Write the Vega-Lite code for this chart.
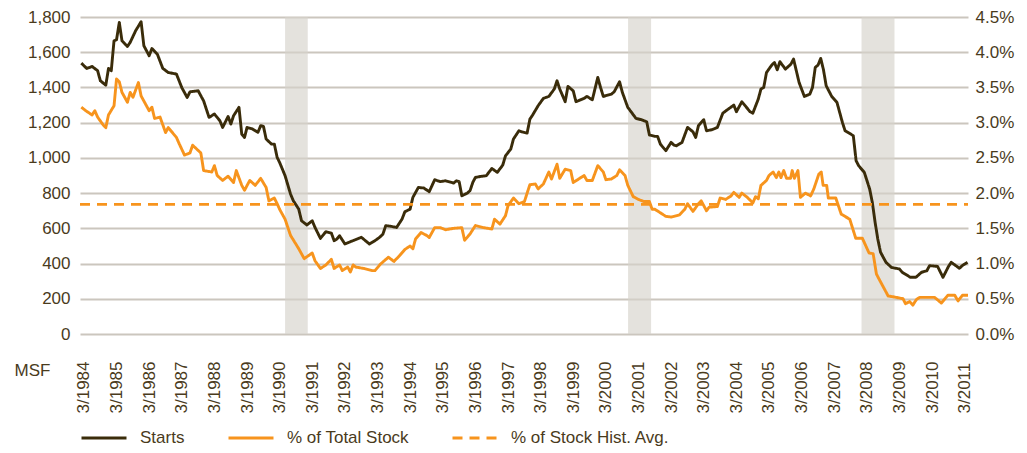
{
  "$schema": "https://vega.github.io/schema/vega-lite/v6.json",
  "width": 888,
  "height": 317,
  "autosize": {"type": "none"},
  "padding": {"left": 80, "top": 17, "right": 59, "bottom": 119},
  "background": "#ffffff",
  "config": {
    "view": {"stroke": null},
    "font": "Liberation Sans",
    "axis": {"labelFont": "Liberation Sans", "labelFontSize": 17, "labelColor": "#4a3b1c", "titleFont": "Liberation Sans", "titleColor": "#4a3b1c"},
    "legend": {"labelFont": "Liberation Sans"}
  },
  "datasets": {
    "bands": [
      {"date": "1990-05-01", "end": "1991-01-10"},
      {"date": "2000-11-04", "end": "2001-07-20"},
      {"date": "2008-01-01", "end": "2009-01-04"}
    ],
    "starts": [
      {"date": "1984-02-01", "series": "Starts", "value": 1538},
      {"date": "1984-04-01", "series": "Starts", "value": 1508},
      {"date": "1984-06-01", "series": "Starts", "value": 1519},
      {"date": "1984-08-01", "series": "Starts", "value": 1495},
      {"date": "1984-09-01", "series": "Starts", "value": 1438},
      {"date": "1984-11-01", "series": "Starts", "value": 1413},
      {"date": "1984-12-01", "series": "Starts", "value": 1508},
      {"date": "1985-01-01", "series": "Starts", "value": 1495},
      {"date": "1985-02-01", "series": "Starts", "value": 1665},
      {"date": "1985-03-01", "series": "Starts", "value": 1671},
      {"date": "1985-04-01", "series": "Starts", "value": 1769},
      {"date": "1985-05-01", "series": "Starts", "value": 1665},
      {"date": "1985-07-01", "series": "Starts", "value": 1633},
      {"date": "1985-08-01", "series": "Starts", "value": 1656},
      {"date": "1985-10-01", "series": "Starts", "value": 1722},
      {"date": "1985-12-01", "series": "Starts", "value": 1773},
      {"date": "1986-01-01", "series": "Starts", "value": 1637},
      {"date": "1986-03-01", "series": "Starts", "value": 1580},
      {"date": "1986-04-01", "series": "Starts", "value": 1621},
      {"date": "1986-06-01", "series": "Starts", "value": 1589},
      {"date": "1986-08-01", "series": "Starts", "value": 1508},
      {"date": "1986-10-01", "series": "Starts", "value": 1485},
      {"date": "1987-01-01", "series": "Starts", "value": 1476},
      {"date": "1987-03-01", "series": "Starts", "value": 1400},
      {"date": "1987-05-01", "series": "Starts", "value": 1343},
      {"date": "1987-06-01", "series": "Starts", "value": 1375},
      {"date": "1987-09-01", "series": "Starts", "value": 1381},
      {"date": "1987-11-01", "series": "Starts", "value": 1324},
      {"date": "1988-01-01", "series": "Starts", "value": 1230},
      {"date": "1988-03-01", "series": "Starts", "value": 1249},
      {"date": "1988-05-01", "series": "Starts", "value": 1211},
      {"date": "1988-06-01", "series": "Starts", "value": 1173},
      {"date": "1988-08-01", "series": "Starts", "value": 1235},
      {"date": "1988-09-01", "series": "Starts", "value": 1192},
      {"date": "1988-10-01", "series": "Starts", "value": 1239},
      {"date": "1988-12-01", "series": "Starts", "value": 1287},
      {"date": "1989-01-01", "series": "Starts", "value": 1135},
      {"date": "1989-02-01", "series": "Starts", "value": 1116},
      {"date": "1989-03-01", "series": "Starts", "value": 1173},
      {"date": "1989-05-01", "series": "Starts", "value": 1164},
      {"date": "1989-07-01", "series": "Starts", "value": 1145},
      {"date": "1989-08-01", "series": "Starts", "value": 1183},
      {"date": "1989-09-01", "series": "Starts", "value": 1179},
      {"date": "1989-10-01", "series": "Starts", "value": 1107},
      {"date": "1989-12-01", "series": "Starts", "value": 1078},
      {"date": "1990-01-01", "series": "Starts", "value": 1078},
      {"date": "1990-02-01", "series": "Starts", "value": 1003},
      {"date": "1990-03-01", "series": "Starts", "value": 974},
      {"date": "1990-05-01", "series": "Starts", "value": 899},
      {"date": "1990-07-01", "series": "Starts", "value": 795},
      {"date": "1990-08-01", "series": "Starts", "value": 757},
      {"date": "1990-10-01", "series": "Starts", "value": 709},
      {"date": "1990-11-01", "series": "Starts", "value": 643},
      {"date": "1991-01-01", "series": "Starts", "value": 619},
      {"date": "1991-03-01", "series": "Starts", "value": 643},
      {"date": "1991-04-01", "series": "Starts", "value": 605},
      {"date": "1991-06-01", "series": "Starts", "value": 543},
      {"date": "1991-07-01", "series": "Starts", "value": 562},
      {"date": "1991-08-01", "series": "Starts", "value": 581},
      {"date": "1991-10-01", "series": "Starts", "value": 573},
      {"date": "1991-11-01", "series": "Starts", "value": 530},
      {"date": "1991-12-01", "series": "Starts", "value": 539},
      {"date": "1992-01-01", "series": "Starts", "value": 558},
      {"date": "1992-03-01", "series": "Starts", "value": 511},
      {"date": "1992-05-01", "series": "Starts", "value": 524},
      {"date": "1992-09-01", "series": "Starts", "value": 549},
      {"date": "1992-12-01", "series": "Starts", "value": 511},
      {"date": "1993-02-01", "series": "Starts", "value": 530},
      {"date": "1993-04-01", "series": "Starts", "value": 552},
      {"date": "1993-05-01", "series": "Starts", "value": 568},
      {"date": "1993-06-01", "series": "Starts", "value": 615},
      {"date": "1993-08-01", "series": "Starts", "value": 611},
      {"date": "1993-10-01", "series": "Starts", "value": 605},
      {"date": "1993-12-01", "series": "Starts", "value": 653},
      {"date": "1994-01-01", "series": "Starts", "value": 694},
      {"date": "1994-03-01", "series": "Starts", "value": 709},
      {"date": "1994-04-01", "series": "Starts", "value": 776},
      {"date": "1994-06-01", "series": "Starts", "value": 832},
      {"date": "1994-08-01", "series": "Starts", "value": 829},
      {"date": "1994-10-01", "series": "Starts", "value": 808},
      {"date": "1994-12-01", "series": "Starts", "value": 876},
      {"date": "1995-02-01", "series": "Starts", "value": 865},
      {"date": "1995-04-01", "series": "Starts", "value": 870},
      {"date": "1995-07-01", "series": "Starts", "value": 857},
      {"date": "1995-08-01", "series": "Starts", "value": 870},
      {"date": "1995-09-01", "series": "Starts", "value": 865},
      {"date": "1995-10-01", "series": "Starts", "value": 785},
      {"date": "1995-12-01", "series": "Starts", "value": 800},
      {"date": "1996-01-01", "series": "Starts", "value": 814},
      {"date": "1996-02-01", "series": "Starts", "value": 861},
      {"date": "1996-03-01", "series": "Starts", "value": 889},
      {"date": "1996-05-01", "series": "Starts", "value": 895},
      {"date": "1996-07-01", "series": "Starts", "value": 899},
      {"date": "1996-09-01", "series": "Starts", "value": 940},
      {"date": "1996-11-01", "series": "Starts", "value": 918},
      {"date": "1997-01-01", "series": "Starts", "value": 959},
      {"date": "1997-02-01", "series": "Starts", "value": 1012},
      {"date": "1997-04-01", "series": "Starts", "value": 1050},
      {"date": "1997-05-01", "series": "Starts", "value": 1107},
      {"date": "1997-07-01", "series": "Starts", "value": 1154},
      {"date": "1997-08-01", "series": "Starts", "value": 1148},
      {"date": "1997-10-01", "series": "Starts", "value": 1141},
      {"date": "1997-11-01", "series": "Starts", "value": 1220},
      {"date": "1997-12-01", "series": "Starts", "value": 1243},
      {"date": "1998-02-01", "series": "Starts", "value": 1296},
      {"date": "1998-04-01", "series": "Starts", "value": 1338},
      {"date": "1998-06-01", "series": "Starts", "value": 1349},
      {"date": "1998-08-01", "series": "Starts", "value": 1391},
      {"date": "1998-09-01", "series": "Starts", "value": 1438},
      {"date": "1998-10-01", "series": "Starts", "value": 1391},
      {"date": "1998-12-01", "series": "Starts", "value": 1319},
      {"date": "1999-01-01", "series": "Starts", "value": 1406},
      {"date": "1999-03-01", "series": "Starts", "value": 1381},
      {"date": "1999-04-01", "series": "Starts", "value": 1319},
      {"date": "1999-07-01", "series": "Starts", "value": 1338},
      {"date": "1999-08-01", "series": "Starts", "value": 1349},
      {"date": "1999-10-01", "series": "Starts", "value": 1330},
      {"date": "1999-12-01", "series": "Starts", "value": 1457},
      {"date": "2000-01-01", "series": "Starts", "value": 1400},
      {"date": "2000-02-01", "series": "Starts", "value": 1349},
      {"date": "2000-05-01", "series": "Starts", "value": 1362},
      {"date": "2000-06-01", "series": "Starts", "value": 1375},
      {"date": "2000-08-01", "series": "Starts", "value": 1432},
      {"date": "2000-09-01", "series": "Starts", "value": 1372},
      {"date": "2000-11-01", "series": "Starts", "value": 1287},
      {"date": "2001-02-01", "series": "Starts", "value": 1224},
      {"date": "2001-04-01", "series": "Starts", "value": 1217},
      {"date": "2001-06-01", "series": "Starts", "value": 1205},
      {"date": "2001-07-01", "series": "Starts", "value": 1130},
      {"date": "2001-09-01", "series": "Starts", "value": 1122},
      {"date": "2001-10-01", "series": "Starts", "value": 1122},
      {"date": "2001-11-01", "series": "Starts", "value": 1078},
      {"date": "2002-01-01", "series": "Starts", "value": 1041},
      {"date": "2002-03-01", "series": "Starts", "value": 1088},
      {"date": "2002-04-01", "series": "Starts", "value": 1073},
      {"date": "2002-05-01", "series": "Starts", "value": 1069},
      {"date": "2002-07-01", "series": "Starts", "value": 1088},
      {"date": "2002-09-01", "series": "Starts", "value": 1173},
      {"date": "2002-11-01", "series": "Starts", "value": 1148},
      {"date": "2002-12-01", "series": "Starts", "value": 1116},
      {"date": "2003-01-01", "series": "Starts", "value": 1183},
      {"date": "2003-03-01", "series": "Starts", "value": 1217},
      {"date": "2003-04-01", "series": "Starts", "value": 1154},
      {"date": "2003-06-01", "series": "Starts", "value": 1160},
      {"date": "2003-08-01", "series": "Starts", "value": 1173},
      {"date": "2003-10-01", "series": "Starts", "value": 1254},
      {"date": "2003-12-01", "series": "Starts", "value": 1277},
      {"date": "2004-02-01", "series": "Starts", "value": 1300},
      {"date": "2004-03-01", "series": "Starts", "value": 1262},
      {"date": "2004-05-01", "series": "Starts", "value": 1319},
      {"date": "2004-06-01", "series": "Starts", "value": 1300},
      {"date": "2004-08-01", "series": "Starts", "value": 1262},
      {"date": "2004-09-01", "series": "Starts", "value": 1254},
      {"date": "2004-11-01", "series": "Starts", "value": 1334},
      {"date": "2004-12-01", "series": "Starts", "value": 1391},
      {"date": "2005-01-01", "series": "Starts", "value": 1400},
      {"date": "2005-02-01", "series": "Starts", "value": 1485},
      {"date": "2005-04-01", "series": "Starts", "value": 1527},
      {"date": "2005-05-01", "series": "Starts", "value": 1542},
      {"date": "2005-06-01", "series": "Starts", "value": 1500},
      {"date": "2005-07-01", "series": "Starts", "value": 1546},
      {"date": "2005-09-01", "series": "Starts", "value": 1504},
      {"date": "2005-11-01", "series": "Starts", "value": 1532},
      {"date": "2005-12-01", "series": "Starts", "value": 1561},
      {"date": "2006-02-01", "series": "Starts", "value": 1428},
      {"date": "2006-04-01", "series": "Starts", "value": 1349},
      {"date": "2006-06-01", "series": "Starts", "value": 1362},
      {"date": "2006-07-01", "series": "Starts", "value": 1400},
      {"date": "2006-08-01", "series": "Starts", "value": 1514},
      {"date": "2006-09-01", "series": "Starts", "value": 1527},
      {"date": "2006-10-01", "series": "Starts", "value": 1565},
      {"date": "2006-11-01", "series": "Starts", "value": 1500},
      {"date": "2006-12-01", "series": "Starts", "value": 1410},
      {"date": "2007-02-01", "series": "Starts", "value": 1349},
      {"date": "2007-04-01", "series": "Starts", "value": 1315},
      {"date": "2007-06-01", "series": "Starts", "value": 1201},
      {"date": "2007-07-01", "series": "Starts", "value": 1154},
      {"date": "2007-10-01", "series": "Starts", "value": 1126},
      {"date": "2007-11-01", "series": "Starts", "value": 984},
      {"date": "2007-12-01", "series": "Starts", "value": 955},
      {"date": "2008-02-01", "series": "Starts", "value": 918},
      {"date": "2008-04-01", "series": "Starts", "value": 823},
      {"date": "2008-05-01", "series": "Starts", "value": 747},
      {"date": "2008-06-01", "series": "Starts", "value": 634},
      {"date": "2008-07-01", "series": "Starts", "value": 539},
      {"date": "2008-08-01", "series": "Starts", "value": 464},
      {"date": "2008-10-01", "series": "Starts", "value": 407},
      {"date": "2008-12-01", "series": "Starts", "value": 378},
      {"date": "2009-03-01", "series": "Starts", "value": 369},
      {"date": "2009-04-01", "series": "Starts", "value": 350},
      {"date": "2009-07-01", "series": "Starts", "value": 322},
      {"date": "2009-09-01", "series": "Starts", "value": 322},
      {"date": "2009-11-01", "series": "Starts", "value": 350},
      {"date": "2010-01-01", "series": "Starts", "value": 359},
      {"date": "2010-02-01", "series": "Starts", "value": 388},
      {"date": "2010-05-01", "series": "Starts", "value": 384},
      {"date": "2010-07-01", "series": "Starts", "value": 322},
      {"date": "2010-09-01", "series": "Starts", "value": 384},
      {"date": "2010-10-01", "series": "Starts", "value": 407},
      {"date": "2011-01-01", "series": "Starts", "value": 373},
      {"date": "2011-02-01", "series": "Starts", "value": 388},
      {"date": "2011-04-01", "series": "Starts", "value": 407}
    ],
    "stock": [
      {"date": "1984-02-01", "series": "% of Total Stock", "value": 3.22},
      {"date": "1984-04-01", "series": "% of Total Stock", "value": 3.16},
      {"date": "1984-06-01", "series": "% of Total Stock", "value": 3.11},
      {"date": "1984-07-01", "series": "% of Total Stock", "value": 3.17},
      {"date": "1984-08-01", "series": "% of Total Stock", "value": 3.08},
      {"date": "1984-10-01", "series": "% of Total Stock", "value": 2.97},
      {"date": "1984-11-01", "series": "% of Total Stock", "value": 2.93},
      {"date": "1984-12-01", "series": "% of Total Stock", "value": 3.11},
      {"date": "1985-02-01", "series": "% of Total Stock", "value": 3.24},
      {"date": "1985-03-01", "series": "% of Total Stock", "value": 3.62},
      {"date": "1985-04-01", "series": "% of Total Stock", "value": 3.58},
      {"date": "1985-05-01", "series": "% of Total Stock", "value": 3.43},
      {"date": "1985-07-01", "series": "% of Total Stock", "value": 3.29},
      {"date": "1985-08-01", "series": "% of Total Stock", "value": 3.43},
      {"date": "1985-09-01", "series": "% of Total Stock", "value": 3.36},
      {"date": "1985-11-01", "series": "% of Total Stock", "value": 3.57},
      {"date": "1985-12-01", "series": "% of Total Stock", "value": 3.38},
      {"date": "1986-03-01", "series": "% of Total Stock", "value": 3.17},
      {"date": "1986-04-01", "series": "% of Total Stock", "value": 3.22},
      {"date": "1986-05-01", "series": "% of Total Stock", "value": 3.06},
      {"date": "1986-07-01", "series": "% of Total Stock", "value": 3.08},
      {"date": "1986-09-01", "series": "% of Total Stock", "value": 2.86},
      {"date": "1986-10-01", "series": "% of Total Stock", "value": 2.93},
      {"date": "1987-01-01", "series": "% of Total Stock", "value": 2.79},
      {"date": "1987-02-01", "series": "% of Total Stock", "value": 2.70},
      {"date": "1987-04-01", "series": "% of Total Stock", "value": 2.54},
      {"date": "1987-06-01", "series": "% of Total Stock", "value": 2.57},
      {"date": "1987-07-01", "series": "% of Total Stock", "value": 2.68},
      {"date": "1987-10-01", "series": "% of Total Stock", "value": 2.57},
      {"date": "1987-11-01", "series": "% of Total Stock", "value": 2.32},
      {"date": "1988-02-01", "series": "% of Total Stock", "value": 2.30},
      {"date": "1988-03-01", "series": "% of Total Stock", "value": 2.39},
      {"date": "1988-04-01", "series": "% of Total Stock", "value": 2.25},
      {"date": "1988-06-01", "series": "% of Total Stock", "value": 2.18},
      {"date": "1988-08-01", "series": "% of Total Stock", "value": 2.24},
      {"date": "1988-10-01", "series": "% of Total Stock", "value": 2.15},
      {"date": "1988-11-01", "series": "% of Total Stock", "value": 2.32},
      {"date": "1989-01-01", "series": "% of Total Stock", "value": 2.11},
      {"date": "1989-02-01", "series": "% of Total Stock", "value": 2.04},
      {"date": "1989-04-01", "series": "% of Total Stock", "value": 2.18},
      {"date": "1989-06-01", "series": "% of Total Stock", "value": 2.11},
      {"date": "1989-08-01", "series": "% of Total Stock", "value": 2.21},
      {"date": "1989-10-01", "series": "% of Total Stock", "value": 2.08},
      {"date": "1989-11-01", "series": "% of Total Stock", "value": 1.89},
      {"date": "1990-01-01", "series": "% of Total Stock", "value": 1.93},
      {"date": "1990-02-01", "series": "% of Total Stock", "value": 1.85},
      {"date": "1990-03-01", "series": "% of Total Stock", "value": 1.77},
      {"date": "1990-05-01", "series": "% of Total Stock", "value": 1.63},
      {"date": "1990-07-01", "series": "% of Total Stock", "value": 1.40},
      {"date": "1990-10-01", "series": "% of Total Stock", "value": 1.21},
      {"date": "1990-12-01", "series": "% of Total Stock", "value": 1.07},
      {"date": "1991-03-01", "series": "% of Total Stock", "value": 1.15},
      {"date": "1991-04-01", "series": "% of Total Stock", "value": 1.04},
      {"date": "1991-06-01", "series": "% of Total Stock", "value": 0.93},
      {"date": "1991-08-01", "series": "% of Total Stock", "value": 0.98},
      {"date": "1991-10-01", "series": "% of Total Stock", "value": 1.06},
      {"date": "1991-11-01", "series": "% of Total Stock", "value": 0.93},
      {"date": "1992-01-01", "series": "% of Total Stock", "value": 0.98},
      {"date": "1992-02-01", "series": "% of Total Stock", "value": 0.90},
      {"date": "1992-04-01", "series": "% of Total Stock", "value": 0.95},
      {"date": "1992-05-01", "series": "% of Total Stock", "value": 0.88},
      {"date": "1992-06-01", "series": "% of Total Stock", "value": 0.98},
      {"date": "1992-07-01", "series": "% of Total Stock", "value": 0.95},
      {"date": "1992-10-01", "series": "% of Total Stock", "value": 0.93},
      {"date": "1993-01-01", "series": "% of Total Stock", "value": 0.90},
      {"date": "1993-02-01", "series": "% of Total Stock", "value": 0.90},
      {"date": "1993-04-01", "series": "% of Total Stock", "value": 0.99},
      {"date": "1993-07-01", "series": "% of Total Stock", "value": 1.09},
      {"date": "1993-09-01", "series": "% of Total Stock", "value": 1.03},
      {"date": "1993-11-01", "series": "% of Total Stock", "value": 1.11},
      {"date": "1994-01-01", "series": "% of Total Stock", "value": 1.20},
      {"date": "1994-03-01", "series": "% of Total Stock", "value": 1.25},
      {"date": "1994-04-01", "series": "% of Total Stock", "value": 1.21},
      {"date": "1994-05-01", "series": "% of Total Stock", "value": 1.35},
      {"date": "1994-07-01", "series": "% of Total Stock", "value": 1.44},
      {"date": "1994-09-01", "series": "% of Total Stock", "value": 1.40},
      {"date": "1994-10-01", "series": "% of Total Stock", "value": 1.37},
      {"date": "1994-12-01", "series": "% of Total Stock", "value": 1.51},
      {"date": "1995-02-01", "series": "% of Total Stock", "value": 1.51},
      {"date": "1995-04-01", "series": "% of Total Stock", "value": 1.48},
      {"date": "1995-07-01", "series": "% of Total Stock", "value": 1.50},
      {"date": "1995-10-01", "series": "% of Total Stock", "value": 1.51},
      {"date": "1995-11-01", "series": "% of Total Stock", "value": 1.33},
      {"date": "1996-01-01", "series": "% of Total Stock", "value": 1.42},
      {"date": "1996-03-01", "series": "% of Total Stock", "value": 1.54},
      {"date": "1996-06-01", "series": "% of Total Stock", "value": 1.51},
      {"date": "1996-09-01", "series": "% of Total Stock", "value": 1.49},
      {"date": "1996-10-01", "series": "% of Total Stock", "value": 1.63},
      {"date": "1996-12-01", "series": "% of Total Stock", "value": 1.56},
      {"date": "1997-02-01", "series": "% of Total Stock", "value": 1.68},
      {"date": "1997-03-01", "series": "% of Total Stock", "value": 1.82},
      {"date": "1997-05-01", "series": "% of Total Stock", "value": 1.93},
      {"date": "1997-07-01", "series": "% of Total Stock", "value": 1.85},
      {"date": "1997-09-01", "series": "% of Total Stock", "value": 1.88},
      {"date": "1997-10-01", "series": "% of Total Stock", "value": 2.00},
      {"date": "1997-11-01", "series": "% of Total Stock", "value": 2.12},
      {"date": "1998-01-01", "series": "% of Total Stock", "value": 2.13},
      {"date": "1998-02-01", "series": "% of Total Stock", "value": 2.06},
      {"date": "1998-04-01", "series": "% of Total Stock", "value": 2.13},
      {"date": "1998-06-01", "series": "% of Total Stock", "value": 2.30},
      {"date": "1998-07-01", "series": "% of Total Stock", "value": 2.20},
      {"date": "1998-09-01", "series": "% of Total Stock", "value": 2.41},
      {"date": "1998-10-01", "series": "% of Total Stock", "value": 2.21},
      {"date": "1998-12-01", "series": "% of Total Stock", "value": 2.34},
      {"date": "1999-02-01", "series": "% of Total Stock", "value": 2.32},
      {"date": "1999-03-01", "series": "% of Total Stock", "value": 2.15},
      {"date": "1999-05-01", "series": "% of Total Stock", "value": 2.20},
      {"date": "1999-07-01", "series": "% of Total Stock", "value": 2.25},
      {"date": "1999-08-01", "series": "% of Total Stock", "value": 2.18},
      {"date": "1999-10-01", "series": "% of Total Stock", "value": 2.18},
      {"date": "1999-12-01", "series": "% of Total Stock", "value": 2.39},
      {"date": "2000-02-01", "series": "% of Total Stock", "value": 2.30},
      {"date": "2000-03-01", "series": "% of Total Stock", "value": 2.19},
      {"date": "2000-05-01", "series": "% of Total Stock", "value": 2.20},
      {"date": "2000-07-01", "series": "% of Total Stock", "value": 2.25},
      {"date": "2000-08-01", "series": "% of Total Stock", "value": 2.33},
      {"date": "2000-10-01", "series": "% of Total Stock", "value": 2.25},
      {"date": "2000-11-01", "series": "% of Total Stock", "value": 2.11},
      {"date": "2001-01-01", "series": "% of Total Stock", "value": 1.95},
      {"date": "2001-03-01", "series": "% of Total Stock", "value": 1.91},
      {"date": "2001-05-01", "series": "% of Total Stock", "value": 1.88},
      {"date": "2001-07-01", "series": "% of Total Stock", "value": 1.88},
      {"date": "2001-08-01", "series": "% of Total Stock", "value": 1.77},
      {"date": "2001-09-01", "series": "% of Total Stock", "value": 1.77},
      {"date": "2001-11-01", "series": "% of Total Stock", "value": 1.72},
      {"date": "2002-01-01", "series": "% of Total Stock", "value": 1.67},
      {"date": "2002-03-01", "series": "% of Total Stock", "value": 1.66},
      {"date": "2002-06-01", "series": "% of Total Stock", "value": 1.69},
      {"date": "2002-08-01", "series": "% of Total Stock", "value": 1.77},
      {"date": "2002-09-01", "series": "% of Total Stock", "value": 1.85},
      {"date": "2002-11-01", "series": "% of Total Stock", "value": 1.74},
      {"date": "2003-01-01", "series": "% of Total Stock", "value": 1.85},
      {"date": "2003-02-01", "series": "% of Total Stock", "value": 1.89},
      {"date": "2003-04-01", "series": "% of Total Stock", "value": 1.75},
      {"date": "2003-05-01", "series": "% of Total Stock", "value": 1.80},
      {"date": "2003-08-01", "series": "% of Total Stock", "value": 1.81},
      {"date": "2003-09-01", "series": "% of Total Stock", "value": 1.93},
      {"date": "2003-11-01", "series": "% of Total Stock", "value": 1.91},
      {"date": "2004-01-01", "series": "% of Total Stock", "value": 1.96},
      {"date": "2004-02-01", "series": "% of Total Stock", "value": 2.01},
      {"date": "2004-04-01", "series": "% of Total Stock", "value": 1.94},
      {"date": "2004-05-01", "series": "% of Total Stock", "value": 2.00},
      {"date": "2004-07-01", "series": "% of Total Stock", "value": 1.94},
      {"date": "2004-09-01", "series": "% of Total Stock", "value": 1.86},
      {"date": "2004-10-01", "series": "% of Total Stock", "value": 1.95},
      {"date": "2004-11-01", "series": "% of Total Stock", "value": 1.92},
      {"date": "2004-12-01", "series": "% of Total Stock", "value": 2.11},
      {"date": "2005-02-01", "series": "% of Total Stock", "value": 2.18},
      {"date": "2005-03-01", "series": "% of Total Stock", "value": 2.25},
      {"date": "2005-04-16", "series": "% of Total Stock", "value": 2.30},
      {"date": "2005-05-22", "series": "% of Total Stock", "value": 2.22},
      {"date": "2005-06-19", "series": "% of Total Stock", "value": 2.30},
      {"date": "2005-07-13", "series": "% of Total Stock", "value": 2.22},
      {"date": "2005-08-13", "series": "% of Total Stock", "value": 2.32},
      {"date": "2005-09-13", "series": "% of Total Stock", "value": 2.21},
      {"date": "2005-10-28", "series": "% of Total Stock", "value": 2.21},
      {"date": "2005-11-16", "series": "% of Total Stock", "value": 2.32},
      {"date": "2005-12-10", "series": "% of Total Stock", "value": 2.21},
      {"date": "2006-01-19", "series": "% of Total Stock", "value": 2.32},
      {"date": "2006-02-16", "series": "% of Total Stock", "value": 1.94},
      {"date": "2006-04-13", "series": "% of Total Stock", "value": 2.00},
      {"date": "2006-06-10", "series": "% of Total Stock", "value": 1.96},
      {"date": "2006-07-16", "series": "% of Total Stock", "value": 2.06},
      {"date": "2006-09-10", "series": "% of Total Stock", "value": 2.27},
      {"date": "2006-10-07", "series": "% of Total Stock", "value": 2.30},
      {"date": "2006-10-28", "series": "% of Total Stock", "value": 2.11},
      {"date": "2006-12-07", "series": "% of Total Stock", "value": 2.11},
      {"date": "2006-12-25", "series": "% of Total Stock", "value": 1.93},
      {"date": "2007-03-19", "series": "% of Total Stock", "value": 1.93},
      {"date": "2007-05-19", "series": "% of Total Stock", "value": 1.70},
      {"date": "2007-08-22", "series": "% of Total Stock", "value": 1.63},
      {"date": "2007-10-28", "series": "% of Total Stock", "value": 1.36},
      {"date": "2008-01-10", "series": "% of Total Stock", "value": 1.36},
      {"date": "2008-03-25", "series": "% of Total Stock", "value": 1.15},
      {"date": "2008-05-10", "series": "% of Total Stock", "value": 1.14},
      {"date": "2008-06-16", "series": "% of Total Stock", "value": 0.85},
      {"date": "2008-08-22", "series": "% of Total Stock", "value": 0.69},
      {"date": "2008-10-25", "series": "% of Total Stock", "value": 0.54},
      {"date": "2009-01-25", "series": "% of Total Stock", "value": 0.52},
      {"date": "2009-04-10", "series": "% of Total Stock", "value": 0.50},
      {"date": "2009-05-07", "series": "% of Total Stock", "value": 0.43},
      {"date": "2009-06-22", "series": "% of Total Stock", "value": 0.46},
      {"date": "2009-07-28", "series": "% of Total Stock", "value": 0.41},
      {"date": "2009-09-07", "series": "% of Total Stock", "value": 0.49},
      {"date": "2009-10-13", "series": "% of Total Stock", "value": 0.52},
      {"date": "2009-12-10", "series": "% of Total Stock", "value": 0.52},
      {"date": "2010-03-28", "series": "% of Total Stock", "value": 0.52},
      {"date": "2010-06-13", "series": "% of Total Stock", "value": 0.44},
      {"date": "2010-08-25", "series": "% of Total Stock", "value": 0.55},
      {"date": "2010-11-10", "series": "% of Total Stock", "value": 0.55},
      {"date": "2010-12-16", "series": "% of Total Stock", "value": 0.47},
      {"date": "2011-02-04", "series": "% of Total Stock", "value": 0.55},
      {"date": "2011-04-07", "series": "% of Total Stock", "value": 0.55},
      {"date": "1984-01-17", "series": "% of Stock Hist. Avg.", "value": 1.84},
      {"date": "2011-04-07", "series": "% of Stock Hist. Avg.", "value": 1.84}
    ]
  },
  "encoding": {
    "x": {
      "field": "date", "type": "temporal",
      "scale": {"type": "utc", "domain": [{"year": 1984, "month": 1, "date": 17, "utc": true}, {"year": 2011, "month": 4, "date": 7, "utc": true}]},
      "axis": {
        "title": "MSF", "titleAngle": 0, "titleX": -66, "titleY": 36, "titleAlign": "left", "titleBaseline": "middle", "titleFontSize": 17, "titleFontWeight": "normal",
        "labelExpr": "utcFormat(datum.value, '%-m/%Y')", "labelAngle": -90, "labelAlign": "left", "labelBaseline": "middle", "labelPadding": 79, "labelFontSize": 17,
        "labelOverlap": false, "labelBound": false, "labelFlush": false, "labelSeparation": 0,
        "domain": false, "ticks": false, "grid": false,
        "values": [
          {"year": 1984, "month": 3, "date": 1, "utc": true}, {"year": 1985, "month": 3, "date": 1, "utc": true}, {"year": 1986, "month": 3, "date": 1, "utc": true}, {"year": 1987, "month": 3, "date": 1, "utc": true},
          {"year": 1988, "month": 3, "date": 1, "utc": true}, {"year": 1989, "month": 3, "date": 1, "utc": true}, {"year": 1990, "month": 3, "date": 1, "utc": true}, {"year": 1991, "month": 3, "date": 1, "utc": true},
          {"year": 1992, "month": 3, "date": 1, "utc": true}, {"year": 1993, "month": 3, "date": 1, "utc": true}, {"year": 1994, "month": 3, "date": 1, "utc": true}, {"year": 1995, "month": 3, "date": 1, "utc": true},
          {"year": 1996, "month": 3, "date": 1, "utc": true}, {"year": 1997, "month": 3, "date": 1, "utc": true}, {"year": 1998, "month": 3, "date": 1, "utc": true}, {"year": 1999, "month": 3, "date": 1, "utc": true},
          {"year": 2000, "month": 3, "date": 1, "utc": true}, {"year": 2001, "month": 3, "date": 1, "utc": true}, {"year": 2002, "month": 3, "date": 1, "utc": true}, {"year": 2003, "month": 3, "date": 1, "utc": true},
          {"year": 2004, "month": 3, "date": 1, "utc": true}, {"year": 2005, "month": 3, "date": 1, "utc": true}, {"year": 2006, "month": 3, "date": 1, "utc": true}, {"year": 2007, "month": 3, "date": 1, "utc": true},
          {"year": 2008, "month": 3, "date": 1, "utc": true}, {"year": 2009, "month": 3, "date": 1, "utc": true}, {"year": 2010, "month": 3, "date": 1, "utc": true}, {"year": 2011, "month": 3, "date": 1, "utc": true}
        ]
      }
    }
  },
  "layer": [
    {
      "data": {"name": "bands"},
      "mark": {"type": "rect", "color": "#d6d2cb", "opacity": 0.65},
      "encoding": {"x2": {"field": "end"}}
    },
    {
      "data": {"name": "starts"},
      "mark": {"type": "line", "strokeWidth": 2.9, "strokeJoin": "round"},
      "encoding": {
        "y": {
          "field": "value", "type": "quantitative",
          "scale": {"domain": [0, 1800], "nice": false, "zero": true},
          "axis": {"orient": "left", "title": null, "values": [0, 200, 400, 600, 800, 1000, 1200, 1400, 1600, 1800], "format": ",.0f", "grid": true, "gridColor": "#cbc6be", "gridWidth": 2, "domain": false, "ticks": false, "labelPadding": 10}
        },
        "color": {
          "field": "series", "type": "nominal",
          "scale": {"domain": ["Starts", "% of Total Stock", "% of Stock Hist. Avg."], "range": ["#3a2c0a", "#f7941d", "#f7941d"]},
          "legend": {"title": null, "orient": "none", "legendX": 0, "legendY": 397, "direction": "horizontal", "symbolType": "stroke", "symbolSize": 2025, "symbolStrokeWidth": 2.8, "labelFontSize": 17, "labelColor": "#4a3b1c", "labelOffset": 12, "columnPadding": 37}
        },
        "strokeDash": {
          "field": "series", "type": "nominal",
          "scale": {"domain": ["Starts", "% of Total Stock", "% of Stock Hist. Avg."], "range": [[1, 0], [1, 0], [10, 7]]},
          "legend": {"title": null, "orient": "none", "legendX": 0, "legendY": 397, "direction": "horizontal", "symbolType": "stroke", "symbolSize": 2025, "symbolStrokeWidth": 2.8, "labelFontSize": 17, "labelColor": "#4a3b1c", "labelOffset": 12, "columnPadding": 37}
        }
      }
    },
    {
      "data": {"name": "stock"},
      "mark": {"type": "line", "strokeWidth": 2.9, "strokeJoin": "round"},
      "encoding": {
        "y": {
          "field": "value", "type": "quantitative",
          "scale": {"domain": [0, 4.5], "nice": false, "zero": true},
          "axis": {"orient": "right", "title": null, "values": [0, 0.5, 1, 1.5, 2, 2.5, 3, 3.5, 4, 4.5], "labelExpr": "format(datum.value, '.1f') + '%'", "grid": false, "domain": false, "ticks": false, "labelPadding": 7}
        },
        "color": {"field": "series", "type": "nominal"},
        "strokeDash": {"field": "series", "type": "nominal"}
      }
    }
  ],
  "resolve": {"scale": {"y": "independent"}}
}
